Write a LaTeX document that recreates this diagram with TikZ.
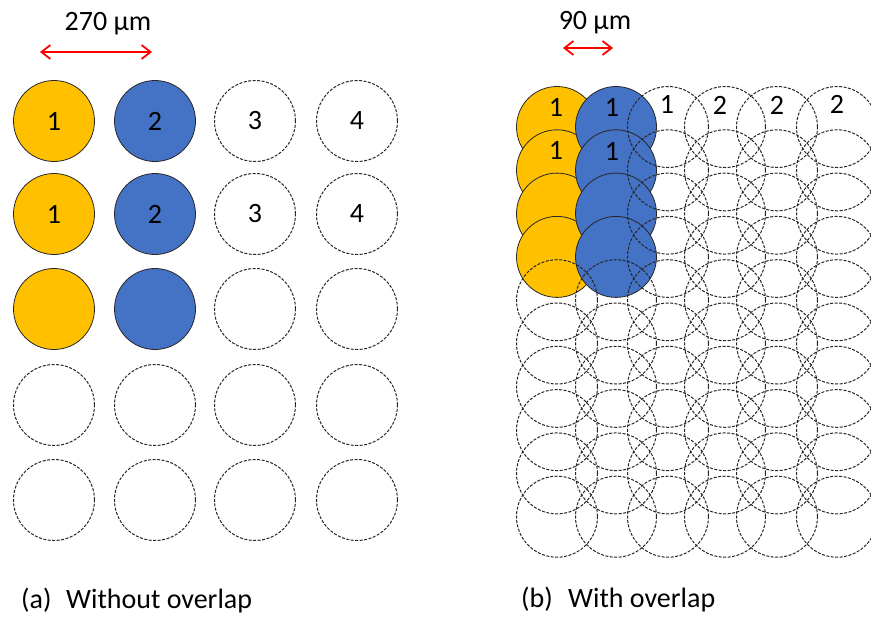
\documentclass[tikz,border=0pt]{standalone}
\usepackage{fontspec}
\setmainfont{Carlito}
\usetikzlibrary{arrows.meta}
\definecolor{gold}{HTML}{FFC000}
\definecolor{blu}{HTML}{4472C4}
\begin{document}
\begin{tikzpicture}[x=1pt,y=-1pt,
  every node/.style={font=\fontsize{28}{32}\selectfont, text=black},
  spot/.style={circle, minimum size=81pt, inner sep=0pt, draw=black!85, line width=0.8pt},
  yel/.style={spot, fill=gold},
  bluespot/.style={spot, fill=blu},
  empty/.style={circle, minimum size=81pt, inner sep=0pt, draw=black!85, line width=1pt, dash pattern=on 3pt off 1.5pt},
  plain/.style={inner sep=0pt},
  dim/.style={red, line width=1.8pt, {Straight Barb[length=9pt,width=14pt]}-{Straight Barb[length=9pt,width=14pt]}}
]
\useasboundingbox (0,0) rectangle (871,619);
\clip (0,0) rectangle (871,619);

% ---------- (a) without overlap ----------
\coordinate (la) at (40,52);
\coordinate (lb) at (152,52);
\draw[dim] (la) -- (lb);
\node[plain, anchor=base] (t270) at (108,30) {270 µm};

\node[yel] (a11) at (54,121) {1};
\node[bluespot] (a21) at (155,121) {2};
\node[empty] (a31) at (255,121) {3};
\node[empty] (a41) at (357,121) {4};

\node[yel] (a12) at (54,214) {1};
\node[bluespot] (a22) at (155,214) {2};
\node[empty] (a32) at (255,214) {3};
\node[empty] (a42) at (357,214) {4};

\node[yel] (a13) at (54,309) {};
\node[bluespot] (a23) at (155,309) {};
\node[empty] (a33) at (255,309) {};
\node[empty] (a43) at (357,309) {};

\foreach \c/\x in {1/54,2/155,3/255,4/357}{
  \node[empty] (a\c4) at (\x,405) {};
  \node[empty] (a\c5) at (\x,500) {};
}

\node[plain, anchor=base west] (capa) at (21,608) {(a)};
\node[plain, anchor=base west] (capatext) at (66,608) {Without overlap};

% ---------- (b) with overlap ----------
\coordinate (ra) at (563,48);
\coordinate (rb) at (613,48);
\draw[dim] (ra) -- (rb);
\node[plain, anchor=base] (t90) at (595,29) {90 µm};

\foreach \r in {1,...,4}{
  \pgfmathsetmacro{\yy}{127+43.3*(\r-1)}
  \node[yel] (y\r) at (557,\yy) {};
}
\foreach \r in {1,...,4}{
  \pgfmathsetmacro{\yy}{127+43.3*(\r-1)}
  \node[bluespot] (b\r) at (616,\yy) {};
}
\foreach \c/\x in {1/557,2/616}{
  \foreach \r in {5,...,10}{
    \pgfmathsetmacro{\yy}{127+43.3*(\r-1)}
    \node[empty] (o\c-\r) at (\x,\yy) {};
  }
}
\foreach \c/\x in {3/668,4/725,5/777,6/837}{
  \foreach \r in {1,...,10}{
    \pgfmathsetmacro{\yy}{127+43.3*(\r-1)}
    \node[empty] (o\c-\r) at (\x,\yy) {};
  }
}

\node[plain] (n11) at (556,107) {1};
\node[plain] (n21) at (612,107) {1};
\node[plain] (n31) at (667,104) {1};
\node[plain] (n41) at (720,105) {2};
\node[plain] (n51) at (777,105) {2};
\node[plain] (n61) at (837,104) {2};
\node[plain] (n12) at (556,150) {1};
\node[plain] (n22) at (612,151) {1};

\node[plain, anchor=base west] (capb) at (521,607) {(b)};
\node[plain, anchor=base west] (capbtext) at (568,607) {With overlap};
\end{tikzpicture}
\end{document}
